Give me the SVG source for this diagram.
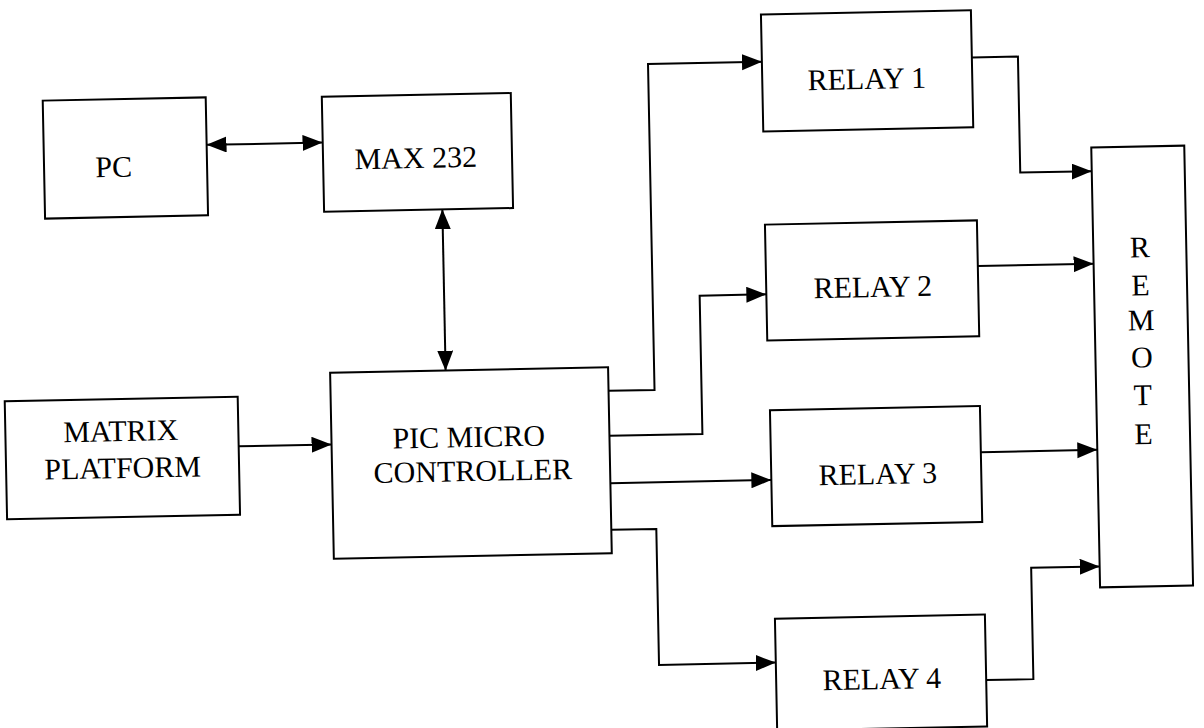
<svg xmlns="http://www.w3.org/2000/svg" width="1204" height="728" viewBox="0 0 1204 728">
<defs>
<marker id="ah" markerUnits="userSpaceOnUse" markerWidth="22" markerHeight="18" refX="20" refY="8" orient="auto-start-reverse">
<path d="M0,0 L20,8 L0,16 Z" fill="#000"/>
</marker>
</defs>
<style>
.box{fill:#fff;stroke:#000;stroke-width:2}
.t{font-family:"Liberation Serif","Times New Roman",serif;font-size:30px;fill:#000;text-anchor:middle}
.c{fill:none;stroke:#000;stroke-width:2;marker-end:url(#ah)}
.b{marker-start:url(#ah)}
</style>
<rect width="1204" height="728" fill="#fff"/>
<g id="diagram" transform="rotate(-1.146 602 364)">
<g id="connectors">
<path class="c b" d="M211,137 L327,137"/>
<path class="c b" d="M445.5,206 L445.5,367.5"/>
<path class="c" d="M237,439 L330,439"/>
<path class="c" d="M608,391 L654,391 L654,65 L768,65"/>
<path class="c" d="M608,436 L701,436 L701,297.6 L767.7,297.6"/>
<path class="c" d="M608,483.3 L769,483.3"/>
<path class="c" d="M608,530 L653,530 L653,666 L769.8,666"/>
<path class="c" d="M978,65 L1024,65 L1024,181 L1095.5,181"/>
<path class="c" d="M979.7,273.6 L1095.5,273.6"/>
<path class="c" d="M979,459.7 L1095.5,459.7"/>
<path class="c" d="M979.8,687.7 L1027,687.7 L1027,576.3 L1095.5,576.3"/>
</g>
<g id="pc"><rect class="box" x="48.1" y="89.5" width="163" height="118"/><text class="t" x="117.7" y="167.2">PC</text></g>
<g id="max232"><rect class="box" x="327.2" y="91.3" width="189" height="115"/><text class="t" x="419.9" y="164.3">MAX 232</text></g>
<g id="matrix"><rect class="box" x="4.1" y="389.4" width="233" height="118"/><text class="t" x="119.5" y="431.4">MATRIX</text><text class="t" x="120.7" y="468.4">PLATFORM</text></g>
<g id="pic"><rect class="box" x="330" y="367.4" width="278" height="186"/><text class="t" x="467.3" y="444.3">PIC MICRO</text><text class="t" x="470.7" y="478.4">CONTROLLER</text></g>
<g id="relay1"><rect class="box" x="767.9" y="17.8" width="210" height="117"/><text class="t" x="872.5" y="94.3">RELAY 1</text></g>
<g id="relay2"><rect class="box" x="767.7" y="227.9" width="212" height="116"/><text class="t" x="874.3" y="302.4">RELAY 2</text></g>
<g id="relay3"><rect class="box" x="769" y="413.5" width="210" height="116"/><text class="t" x="875.6" y="489.5">RELAY 3</text></g>
<g id="relay4"><rect class="box" x="769.8" y="622.1" width="210" height="112"/><text class="t" x="875.5" y="694.6">RELAY 4</text></g>
<g id="remote"><rect class="box" x="1095.5" y="157.3" width="93" height="440"/>
<text class="t" x="1142" y="268">R</text><text class="t" x="1142" y="306">E</text><text class="t" x="1142" y="341">M</text><text class="t" x="1142" y="378">O</text><text class="t" x="1142" y="416">T</text><text class="t" x="1142" y="455">E</text></g>
</g>
</svg>
